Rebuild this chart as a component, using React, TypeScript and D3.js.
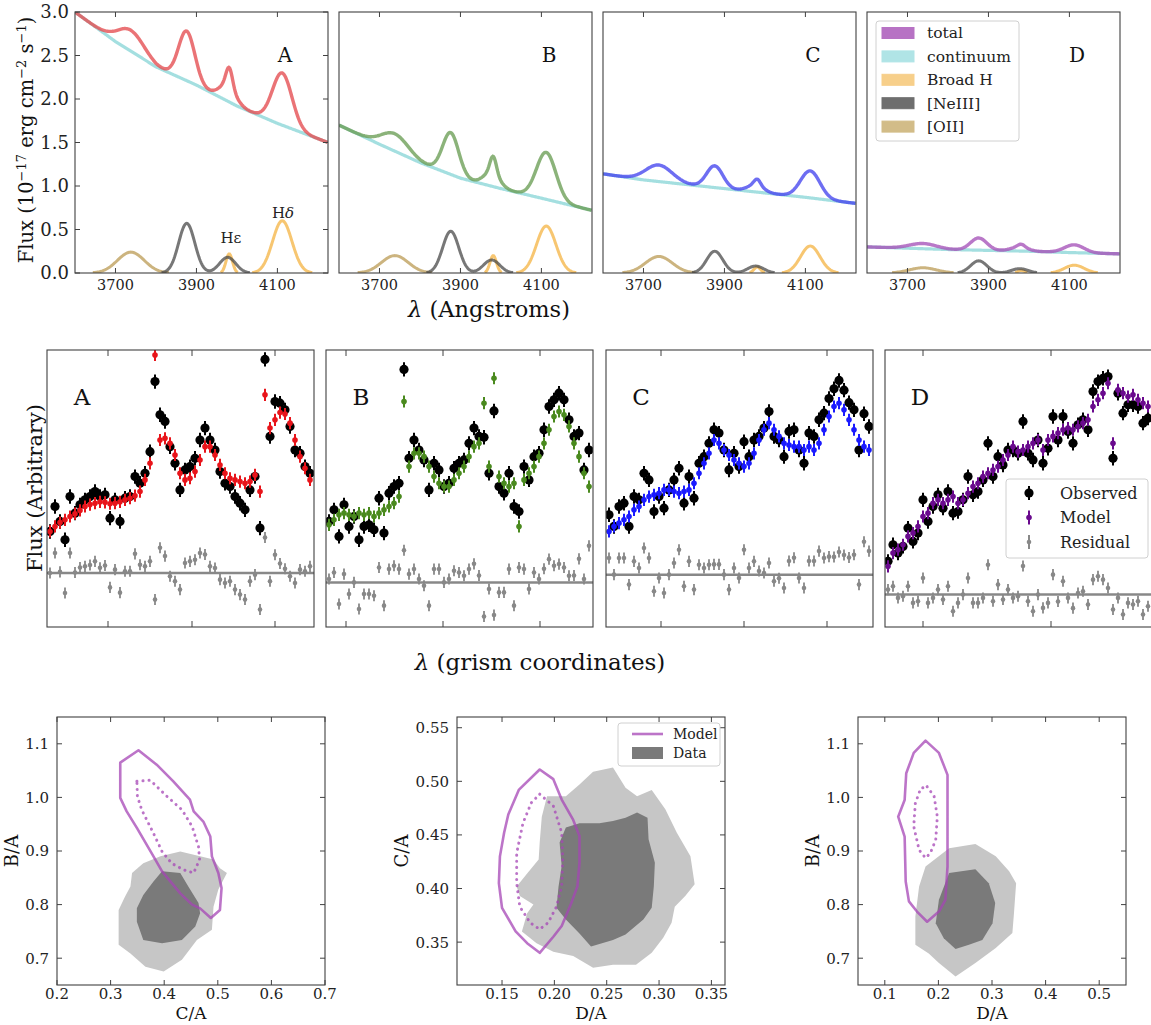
import React, { useEffect, useRef } from 'react';
import * as d3 from 'd3';

const FONT = "'DejaVu Serif', 'Liberation Serif', serif";

// ---------- top row: model spectra ----------
const panelNames = ['A', 'B', 'C', 'D'];
const waveTicks = [3700, 3900, 4100];
const fluxTicks = [0, 0.5, 1.0, 1.5, 2.0, 2.5, 3.0];
const contWaves = [3600, 3700, 3800, 3900, 4000, 4100, 4225];
const contA = [3.0, 2.66, 2.37, 2.16, 1.92, 1.72, 1.5];
const contB = [1.7, 1.48, 1.27, 1.09, 0.97, 0.86, 0.72];
const contC = [1.14, 1.07, 1.02, 0.97, 0.92, 0.87, 0.8];
const contD = [0.3, 0.285, 0.27, 0.26, 0.25, 0.235, 0.22];
// emission lines: [OII], [NeIII]3869, [NeIII]3968, Hε, Hδ
const lineCenters = [3738, 3876, 3977, 3981, 4112];
const lineSigmas = [33, 20, 20, 8, 24];
const ampA = [0.24, 0.57, 0.18, 0.22, 0.6];
const ampB = [0.2, 0.48, 0.15, 0.2, 0.54];
const ampC = [0.19, 0.25, 0.08, 0.07, 0.31];
const ampD = [0.06, 0.14, 0.05, 0.03, 0.09];
const totalColors = ['#e44b4f', '#6a9e55', '#4545ee', '#a552b8'];
const legendNames = ['total', 'continuum', 'Broad H', '[NeIII]', '[OII]'];
const legendColors = ['#b772c4', '#b0e4e6', '#f7cf8a', '#6e6e6e', '#d2bc88'];

// ---------- middle row: grism spectra ----------
const midTicksA = [61, 145, 228];
const midTicksB = [20, 117, 214];
const midTicksC = [55, 138, 221];
const midTicksD = [38, 166];
const obsA = [34.5, 43.5, 38.1, 31.5, 47.1, 41.1, 44.1, 45.9, 47.1, 48.9, 47.1, 47.7, 39.3, 45.9, 38.1, 46.5, 47.1, 54.3, 51.9, 55.5, 63.3, 88.6, 76.6, 74.2, 65.1, 59.1, 49.5, 56.7, 57.9, 60.9, 67.5, 71.8, 67.5, 63.9, 56.1, 51.9, 50.7, 47.1, 44.7, 42.3, 49.5, 54.3, 35.7, 96.6, 68.8, 81.4, 80.8, 78.4, 72.4, 63.9, 62.7, 57.9, 55.5];
const modelA = [34.5, 36.3, 37.7, 38.7, 39.9, 40.9, 42.1, 43.5, 44.2, 44.7, 45.2, 45.0, 44.5, 44.7, 45.2, 45.9, 46.5, 47.4, 48.9, 53.1, 59.1, 98.2, 67.5, 68.1, 66.3, 62.1, 55.5, 53.1, 53.7, 56.1, 60.3, 65.1, 65.1, 62.1, 58.5, 55.5, 53.7, 53.1, 52.5, 51.9, 52.5, 54.9, 48.9, 83.8, 71.8, 74.8, 77.4, 76.9, 73.6, 67.5, 61.5, 57.3, 53.1];
const obsB = [38.1, 42.3, 32.7, 44.1, 36.3, 39.9, 31.5, 36.3, 36.9, 35.1, 46.5, 33.9, 48.3, 50.7, 51.9, 93.0, 60.9, 67.5, 63.9, 60.3, 49.5, 59.1, 56.7, 50.7, 51.9, 57.3, 59.1, 60.3, 66.3, 71.8, 68.8, 68.5, 55.5, 78.0, 50.7, 48.3, 55.5, 43.5, 41.7, 57.9, 53.1, 61.5, 62.7, 71.2, 79.6, 82.0, 84.4, 82.0, 74.8, 68.8, 70.0, 56.7, 63.9];
const modelB = [36.9, 38.7, 40.5, 41.1, 40.5, 39.9, 41.1, 40.5, 41.1, 39.9, 41.1, 42.3, 43.5, 44.7, 47.1, 81.4, 57.9, 62.7, 62.7, 61.5, 57.9, 54.3, 51.9, 50.7, 50.7, 53.1, 55.5, 57.9, 61.5, 65.1, 66.3, 80.8, 57.9, 89.8, 54.3, 51.9, 50.7, 51.9, 36.3, 53.1, 55.5, 57.9, 61.5, 66.3, 71.2, 76.0, 77.8, 76.6, 72.4, 66.3, 61.5, 55.5, 50.7];
const obsC = [40.5, 36.3, 43.5, 44.7, 36.3, 47.1, 45.9, 55.5, 53.1, 41.7, 47.1, 42.9, 49.5, 53.1, 57.3, 44.7, 54.3, 46.5, 59.1, 61.5, 66.3, 71.2, 70.0, 63.9, 56.7, 62.7, 57.9, 66.9, 61.5, 67.5, 68.8, 71.8, 77.8, 68.8, 67.5, 61.5, 70.6, 71.2, 63.9, 59.1, 70.0, 68.8, 74.8, 77.2, 82.5, 86.0, 89.0, 85.5, 81.0, 78.4, 63.9, 77.0, 72.4];
const modelC = [34.5, 36.3, 37.5, 38.7, 39.9, 42.3, 43.5, 45.9, 47.1, 47.7, 48.3, 49.5, 49.5, 48.9, 48.3, 48.9, 49.5, 51.9, 55.5, 59.1, 62.7, 67.5, 66.3, 63.9, 62.1, 60.3, 59.1, 57.9, 59.1, 62.7, 67.5, 71.2, 73.6, 71.2, 68.8, 66.3, 65.7, 65.1, 65.1, 63.9, 65.1, 63.9, 66.3, 71.2, 76.0, 79.6, 80.8, 78.4, 74.8, 71.2, 67.5, 65.1, 63.9];
const obsD = [23.7, 29.7, 26.7, 29.1, 35.7, 30.9, 33.9, 45.9, 38.1, 43.5, 47.7, 42.9, 48.9, 41.1, 41.7, 45.9, 54.3, 47.7, 48.9, 53.1, 66.3, 54.3, 61.5, 58.5, 63.9, 63.9, 62.7, 74.2, 62.7, 60.3, 67.5, 59.1, 64.5, 76.0, 67.5, 76.0, 70.6, 66.3, 73.0, 74.8, 71.2, 85.0, 88.6, 89.8, 90.4, 60.9, 84.4, 77.2, 80.2, 80.2, 79.6, 73.6, 75.4];
const modelD = [21.9, 26.7, 27.9, 29.7, 32.7, 33.9, 36.3, 39.9, 41.1, 44.7, 45.9, 44.7, 45.9, 47.1, 44.7, 45.9, 48.3, 50.7, 51.9, 54.3, 55.5, 56.7, 57.9, 60.3, 62.1, 65.1, 63.3, 63.9, 65.1, 66.3, 67.5, 63.9, 67.5, 68.8, 70.0, 71.2, 71.8, 71.2, 72.4, 73.6, 74.8, 79.6, 82.0, 84.4, 88.0, 66.3, 85.6, 84.4, 83.2, 83.8, 82.0, 80.8, 79.6];
const residBase = [19.5, 16.1, 18.9, 11.7];
const modelColors = ['#e8141a', '#4a8a1e', '#1a1aff', '#6a0a8e'];

// ---------- bottom row: ratio contours ----------
const caBaOuter = [[0.430, 0.899], [0.467, 0.890], [0.492, 0.884], [0.504, 0.868], [0.517, 0.859], [0.501, 0.828], [0.492, 0.796], [0.489, 0.753], [0.461, 0.734], [0.433, 0.697], [0.399, 0.675], [0.365, 0.684], [0.337, 0.709], [0.315, 0.725], [0.315, 0.790], [0.327, 0.815], [0.337, 0.834], [0.340, 0.859], [0.361, 0.877], [0.393, 0.890]];
const caBaInner = [[0.396, 0.862], [0.430, 0.859], [0.445, 0.834], [0.464, 0.803], [0.467, 0.784], [0.458, 0.759], [0.433, 0.734], [0.396, 0.728], [0.361, 0.734], [0.349, 0.768], [0.349, 0.793], [0.361, 0.818], [0.380, 0.843]];
const caBaModel = [[0.318, 1.065], [0.352, 1.088], [0.386, 1.061], [0.417, 1.030], [0.448, 0.996], [0.455, 0.974], [0.473, 0.955], [0.486, 0.927], [0.489, 0.890], [0.501, 0.859], [0.507, 0.831], [0.504, 0.790], [0.487, 0.775], [0.467, 0.793], [0.452, 0.800], [0.430, 0.821], [0.396, 0.862], [0.380, 0.890], [0.349, 0.943], [0.330, 0.974], [0.318, 0.999]];
const caBaModel1 = [[0.349, 1.030], [0.374, 1.032], [0.405, 1.002], [0.433, 0.977], [0.452, 0.946], [0.464, 0.908], [0.466, 0.884], [0.455, 0.859], [0.436, 0.865], [0.414, 0.877], [0.396, 0.899], [0.380, 0.933], [0.358, 0.977], [0.350, 1.002]];
const daCaOuter = [[0.193, 0.486], [0.211, 0.486], [0.224, 0.497], [0.237, 0.509], [0.256, 0.513], [0.268, 0.494], [0.279, 0.486], [0.293, 0.492], [0.306, 0.474], [0.317, 0.452], [0.330, 0.430], [0.334, 0.404], [0.325, 0.393], [0.315, 0.383], [0.312, 0.368], [0.304, 0.354], [0.293, 0.340], [0.278, 0.329], [0.256, 0.329], [0.237, 0.326], [0.218, 0.337], [0.199, 0.341], [0.183, 0.349], [0.169, 0.360], [0.174, 0.377], [0.180, 0.385], [0.167, 0.393], [0.164, 0.402], [0.174, 0.414], [0.185, 0.427], [0.186, 0.443], [0.188, 0.467]];
const daCaInner = [[0.211, 0.457], [0.224, 0.461], [0.243, 0.461], [0.256, 0.463], [0.268, 0.466], [0.279, 0.471], [0.289, 0.466], [0.290, 0.446], [0.296, 0.424], [0.295, 0.402], [0.293, 0.382], [0.285, 0.371], [0.268, 0.357], [0.256, 0.352], [0.235, 0.346], [0.224, 0.358], [0.211, 0.371], [0.202, 0.382], [0.204, 0.402], [0.207, 0.421], [0.205, 0.443]];
const daCaModel = [[0.186, 0.511], [0.199, 0.502], [0.207, 0.483], [0.218, 0.464], [0.224, 0.449], [0.224, 0.424], [0.222, 0.402], [0.216, 0.386], [0.207, 0.365], [0.199, 0.355], [0.186, 0.340], [0.174, 0.349], [0.163, 0.360], [0.150, 0.382], [0.147, 0.405], [0.148, 0.430], [0.152, 0.452], [0.156, 0.469], [0.166, 0.492]];
const daCaModel1 = [[0.186, 0.488], [0.199, 0.477], [0.207, 0.452], [0.208, 0.427], [0.207, 0.402], [0.202, 0.383], [0.194, 0.368], [0.186, 0.362], [0.177, 0.368], [0.167, 0.383], [0.164, 0.405], [0.164, 0.433], [0.170, 0.461], [0.178, 0.480]];
const daBaOuter = [[0.220, 0.905], [0.269, 0.913], [0.307, 0.890], [0.332, 0.862], [0.345, 0.840], [0.341, 0.784], [0.338, 0.747], [0.307, 0.719], [0.269, 0.691], [0.232, 0.666], [0.201, 0.691], [0.182, 0.709], [0.157, 0.725], [0.157, 0.778], [0.164, 0.834], [0.176, 0.871]];
const daBaInner = [[0.220, 0.859], [0.269, 0.866], [0.294, 0.840], [0.306, 0.803], [0.301, 0.765], [0.282, 0.734], [0.257, 0.725], [0.232, 0.717], [0.210, 0.737], [0.195, 0.765], [0.201, 0.809]];
const daBaModel = [[0.176, 1.106], [0.201, 1.083], [0.217, 1.042], [0.217, 0.871], [0.213, 0.809], [0.201, 0.787], [0.179, 0.768], [0.160, 0.787], [0.145, 0.806], [0.139, 0.843], [0.137, 0.927], [0.125, 0.964], [0.137, 0.995], [0.140, 1.045], [0.154, 1.083]];
const daBaModel1 = [[0.179, 1.020], [0.192, 1.002], [0.198, 0.964], [0.195, 0.921], [0.185, 0.896], [0.176, 0.887], [0.164, 0.902], [0.154, 0.946], [0.157, 0.989], [0.167, 1.017]];

const frameColor = '#404040';

export default function App() {
  const ref = useRef<SVGSVGElement>(null);

  useEffect(() => {
    if (ref.current) renderFigure();
  }, []);

  const box = (g: any, w: number, h: number) => {
    g.append('rect').attr('width', w).attr('height', h)
      .attr('fill', 'none').attr('stroke', frameColor).attr('stroke-width', 1.1);
  };

  const xTicks = (g: any, xs: number[], h: number, len = 5) => {
    xs.forEach(x => {
      g.append('line').attr('x1', x).attr('x2', x).attr('y1', h).attr('y2', h - len).attr('stroke', frameColor);
      g.append('line').attr('x1', x).attr('x2', x).attr('y1', 0).attr('y2', len).attr('stroke', frameColor);
    });
  };

  const yTicks = (g: any, ys: number[], w: number, len = 5) => {
    ys.forEach(y => {
      g.append('line').attr('x1', 0).attr('x2', len).attr('y1', y).attr('y2', y).attr('stroke', frameColor);
      g.append('line').attr('x1', w).attr('x2', w - len).attr('y1', y).attr('y2', y).attr('stroke', frameColor);
    });
  };

  const renderFigure = () => {
    const svg = d3.select(ref.current);
    svg.selectAll('*').remove();
    svg.attr('font-family', FONT);
    const defs = svg.append('defs');

    // ===== top row =====
    const tw = 253, th = 261;
    const x = d3.scaleLinear().domain([3600, 4225]).range([0, tw]);
    const y = d3.scaleLinear().domain([0, 3]).range([th, 0]);
    const waves = d3.range(3600, 4226, 2);
    const conts = [contA, contB, contC, contD];
    const amps = [ampA, ampB, ampC, ampD];

    panelNames.forEach((name, i) => {
      const g = svg.append('g').attr('transform', `translate(${75 + 264 * i},12)`);
      defs.append('clipPath').attr('id', `topclip${i}`)
        .append('rect').attr('width', tw).attr('height', th);
      const cont = d3.scaleLinear().domain(contWaves).range(conts[i]);
      const amp = amps[i];
      const comp = (w: number, k: number) =>
        amp[k] * Math.exp(-0.5 * ((w - lineCenters[k]) / lineSigmas[k]) ** 2);
      const rows = waves.map(w => {
        const r: any = { w, c: cont(w), oii: comp(w, 0), ne: comp(w, 1) + comp(w, 2), h: comp(w, 3) + comp(w, 4) };
        r.t = r.c + r.oii + r.ne + r.h;
        return r;
      });
      const plot = g.append('g').attr('clip-path', `url(#topclip${i})`);
      const draw = (key: string, color: string, width: number, op: number, cut = false) => {
        const ln = d3.line<any>().x(d => x(d.w)).y(d => y(d[key]));
        if (cut) ln.defined(d => d[key] > 0.004);
        plot.append('path').datum(rows).attr('d', ln as any).attr('fill', 'none')
          .attr('stroke', color).attr('stroke-width', width).attr('stroke-opacity', op);
      };
      draw('oii', '#bfa15f', 3, 0.8, true);
      draw('h', '#f5b84e', 3, 0.8, true);
      draw('ne', '#4a4a4a', 3, 0.75, true);
      draw('c', '#86d4d6', 3.2, 0.75);
      draw('t', totalColors[i], 3.4, 0.78);

      box(g, tw, th);
      xTicks(g, waveTicks.map(v => x(v)), th);
      waveTicks.forEach(v => {
        g.append('text').attr('x', x(v)).attr('y', th + 17).attr('text-anchor', 'middle')
          .attr('font-size', 14.5).attr('fill', '#222').text(v);
      });
      if (i === 0) {
        yTicks(g, fluxTicks.map(v => y(v)), tw);
        fluxTicks.forEach(v => {
          g.append('text').attr('x', -6).attr('y', y(v)).attr('dy', '0.36em').attr('text-anchor', 'end')
            .attr('font-size', 18).attr('fill', '#222').text(d3.format('.1f')(v));
        });
        g.append('text').attr('x', x(3985)).attr('y', y(0.345)).attr('text-anchor', 'middle')
          .attr('font-size', 15).attr('fill', '#222').text('Hε');
        const hd = g.append('text').attr('x', x(4114)).attr('y', y(0.63)).attr('text-anchor', 'middle')
          .attr('font-size', 15).attr('fill', '#222');
        hd.append('tspan').text('H');
        hd.append('tspan').attr('font-style', 'italic').text('δ');
      }
      g.append('text').attr('x', 210).attr('y', 50).attr('text-anchor', 'middle')
        .attr('font-size', 20).attr('fill', '#111').text(name);

      if (i === 3) {
        const lg = g.append('g').attr('transform', 'translate(9,9)');
        lg.append('rect').attr('width', 143).attr('height', 120).attr('rx', 3)
          .attr('fill', '#fff').attr('fill-opacity', 0.85).attr('stroke', '#d0d0d0');
        legendNames.forEach((ln, k) => {
          const cy = 12 + 23.4 * k;
          lg.append('rect').attr('x', 6).attr('y', cy - 5.5).attr('width', 32).attr('height', 11)
            .attr('fill', legendColors[k]).attr('stroke', legendColors[k]);
          lg.append('text').attr('x', 51).attr('y', cy).attr('dy', '0.35em')
            .attr('font-size', 15.5).attr('fill', '#222').text(ln);
        });
      }
    });

    const xl = svg.append('text').attr('x', 489).attr('y', 317).attr('text-anchor', 'middle')
      .attr('font-size', 22.5).attr('fill', '#111');
    xl.append('tspan').attr('font-style', 'italic').text('λ');
    xl.append('tspan').text(' (Angstroms)');

    const yl = svg.append('text').attr('transform', 'translate(33,140) rotate(-90)')
      .attr('text-anchor', 'middle').attr('font-size', 19.5).attr('fill', '#111');
    yl.append('tspan').text('Flux (10');
    yl.append('tspan').attr('baseline-shift', 'super').attr('font-size', 13).text('−17');
    yl.append('tspan').text(' erg cm');
    yl.append('tspan').attr('baseline-shift', 'super').attr('font-size', 13).text('−2');
    yl.append('tspan').text(' s');
    yl.append('tspan').attr('baseline-shift', 'super').attr('font-size', 13).text('−1');
    yl.append('tspan').text(')');

    // ===== middle row =====
    const mw = 267, mh = 277;
    const mx = d3.scaleLinear().domain([0, 267]).range([0, mw]);
    const my = d3.scaleLinear().domain([0, 100]).range([mh, 0]);
    const gx = d3.range(53).map(k => 3 + 5 * k);
    const midLefts = [47, 326, 606, 885];
    const obsAll = [obsA, obsB, obsC, obsD];
    const modAll = [modelA, modelB, modelC, modelD];
    const tickAll = [midTicksA, midTicksB, midTicksC, midTicksD];

    panelNames.forEach((name, i) => {
      const g = svg.append('g').attr('transform', `translate(${midLefts[i]},350)`);
      defs.append('clipPath').attr('id', `midclip${i}`)
        .append('rect').attr('width', mw).attr('height', mh);
      const plot = g.append('g').attr('clip-path', `url(#midclip${i})`);
      const obs = obsAll[i], mod = modAll[i], base = residBase[i];
      const col = modelColors[i];

      plot.append('line').attr('x1', 0).attr('x2', mw).attr('y1', my(base)).attr('y2', my(base))
        .attr('stroke', '#888').attr('stroke-width', 2.5);
      gx.forEach((xv, k) => {
        const r = base + obs[k] - mod[k];
        plot.append('line').attr('x1', mx(xv)).attr('x2', mx(xv)).attr('y1', my(r - 2)).attr('y2', my(r + 2))
          .attr('stroke', '#888').attr('stroke-width', 1.8);
        plot.append('circle').attr('cx', mx(xv)).attr('cy', my(r)).attr('r', 2.3).attr('fill', '#888');
      });
      gx.forEach((xv, k) => {
        plot.append('line').attr('x1', mx(xv)).attr('x2', mx(xv)).attr('y1', my(obs[k] - 2.6)).attr('y2', my(obs[k] + 2.6))
          .attr('stroke', '#000').attr('stroke-width', 2);
        plot.append('circle').attr('cx', mx(xv)).attr('cy', my(obs[k])).attr('r', 4.6).attr('fill', '#000');
      });
      gx.forEach((xv, k) => {
        plot.append('line').attr('x1', mx(xv)).attr('x2', mx(xv)).attr('y1', my(mod[k] - 2.2)).attr('y2', my(mod[k] + 2.2))
          .attr('stroke', col).attr('stroke-width', 2);
        plot.append('circle').attr('cx', mx(xv)).attr('cy', my(mod[k])).attr('r', 2.8).attr('fill', col);
      });

      box(g, mw, mh);
      xTicks(g, tickAll[i].map(v => mx(v)), mh, 6);
      g.append('text').attr('x', 35).attr('y', 55).attr('text-anchor', 'middle')
        .attr('font-size', 23).attr('fill', '#111').text(name);

      if (i === 3) {
        const lg = g.append('g').attr('transform', 'translate(121,129)');
        lg.append('rect').attr('width', 142).attr('height', 79).attr('rx', 3)
          .attr('fill', '#fff').attr('fill-opacity', 0.85).attr('stroke', '#d0d0d0');
        const entries = [
          { t: 'Observed', c: '#000', r: 4.6 },
          { t: 'Model', c: modelColors[3], r: 2.8 },
          { t: 'Residual', c: '#888', r: 2.3 },
        ];
        entries.forEach((e, k) => {
          const cy = 14 + 24.5 * k;
          lg.append('line').attr('x1', 23).attr('x2', 23).attr('y1', cy - 7).attr('y2', cy + 7)
            .attr('stroke', e.c).attr('stroke-width', 2);
          lg.append('circle').attr('cx', 23).attr('cy', cy).attr('r', e.r).attr('fill', e.c);
          lg.append('text').attr('x', 54).attr('y', cy).attr('dy', '0.35em')
            .attr('font-size', 16).attr('fill', '#222').text(e.t);
        });
      }
    });

    const xl2 = svg.append('text').attr('x', 540).attr('y', 670).attr('text-anchor', 'middle')
      .attr('font-size', 23).attr('fill', '#111');
    xl2.append('tspan').attr('font-style', 'italic').text('λ');
    xl2.append('tspan').text(' (grism coordinates)');
    svg.append('text').attr('transform', 'translate(42,488) rotate(-90)')
      .attr('text-anchor', 'middle').attr('font-size', 21).attr('fill', '#111').text('Flux (Arbitrary)');

    // ===== bottom row =====
    const bs = 268;
    const bottom = [
      { left: 57, xd: [0.2, 0.7], yd: [0.65, 1.15], xt: [0.2, 0.3, 0.4, 0.5, 0.6, 0.7], yt: [0.7, 0.8, 0.9, 1.0, 1.1], f: '.1f', xl: 'C/A', yl: 'B/A', outer: caBaOuter, inner: caBaInner, m2: caBaModel, m1: caBaModel1 },
      { left: 457, xd: [0.107, 0.363], yd: [0.31, 0.56], xt: [0.15, 0.2, 0.25, 0.3, 0.35], yt: [0.35, 0.4, 0.45, 0.5, 0.55], f: '.2f', xl: 'D/A', yl: 'C/A', outer: daCaOuter, inner: daCaInner, m2: daCaModel, m1: daCaModel1 },
      { left: 858, xd: [0.05, 0.55], yd: [0.65, 1.15], xt: [0.1, 0.2, 0.3, 0.4, 0.5], yt: [0.7, 0.8, 0.9, 1.0, 1.1], f: '.1f', xl: 'D/A', yl: 'B/A', outer: daBaOuter, inner: daBaInner, m2: daBaModel, m1: daBaModel1 },
    ];
    bottom.forEach((p, i) => {
      const g = svg.append('g').attr('transform', `translate(${p.left},717)`);
      const bx = d3.scaleLinear().domain(p.xd).range([0, bs]);
      const by = d3.scaleLinear().domain(p.yd).range([bs, 0]);
      const poly = d3.line<number[]>().x(d => bx(d[0])).y(d => by(d[1])).curve(d3.curveLinearClosed);
      g.append('path').attr('d', poly(p.outer as any)).attr('fill', '#c6c6c6');
      g.append('path').attr('d', poly(p.inner as any)).attr('fill', '#7a7a7a');
      g.append('path').attr('d', poly(p.m2 as any)).attr('fill', 'none')
        .attr('stroke', '#a546b5').attr('stroke-opacity', 0.75).attr('stroke-width', 2.6).attr('stroke-linejoin', 'round');
      g.append('path').attr('d', poly(p.m1 as any)).attr('fill', 'none')
        .attr('stroke', '#a546b5').attr('stroke-opacity', 0.75).attr('stroke-width', 3)
        .attr('stroke-dasharray', '0.1 6').attr('stroke-linecap', 'round');

      box(g, bs, bs);
      xTicks(g, p.xt.map(v => bx(v)), bs, 5);
      yTicks(g, p.yt.map(v => by(v)), bs, 5);
      p.xt.forEach(v => {
        g.append('text').attr('x', bx(v)).attr('y', bs + 14).attr('text-anchor', 'middle')
          .attr('font-size', 15).attr('fill', '#222').text(d3.format(p.f)(v));
      });
      p.yt.forEach(v => {
        g.append('text').attr('x', -8).attr('y', by(v)).attr('dy', '0.36em').attr('text-anchor', 'end')
          .attr('font-size', 15).attr('fill', '#222').text(d3.format(p.f)(v));
      });
      g.append('text').attr('x', bs / 2).attr('y', bs + 34).attr('text-anchor', 'middle')
        .attr('font-size', 17).attr('fill', '#111').text(p.xl);
      const ylx = i === 1 ? -49 : -39;
      g.append('text').attr('transform', `translate(${ylx},${bs / 2}) rotate(-90)`)
        .attr('text-anchor', 'middle').attr('font-size', 18).attr('fill', '#111').text(p.yl);

      if (i === 1) {
        const lg = g.append('g').attr('transform', 'translate(161,6)');
        lg.append('rect').attr('width', 102).attr('height', 43).attr('rx', 3)
          .attr('fill', '#fff').attr('fill-opacity', 0.85).attr('stroke', '#d0d0d0');
        lg.append('line').attr('x1', 14).attr('x2', 45).attr('y1', 11).attr('y2', 11)
          .attr('stroke', '#a546b5').attr('stroke-opacity', 0.75).attr('stroke-width', 2.6);
        lg.append('text').attr('x', 55).attr('y', 11).attr('dy', '0.35em').attr('font-size', 14).attr('fill', '#222').text('Model');
        lg.append('rect').attr('x', 14).attr('y', 24).attr('width', 31).attr('height', 12).attr('fill', '#7a7a7a');
        lg.append('text').attr('x', 55).attr('y', 30).attr('dy', '0.35em').attr('font-size', 14).attr('fill', '#222').text('Data');
      }
    });
  };

  return (
    <svg ref={ref} width={1151} height={1025}
      style={{ position: 'absolute', left: 0, top: 0, background: '#fff' }} />
  );
}
